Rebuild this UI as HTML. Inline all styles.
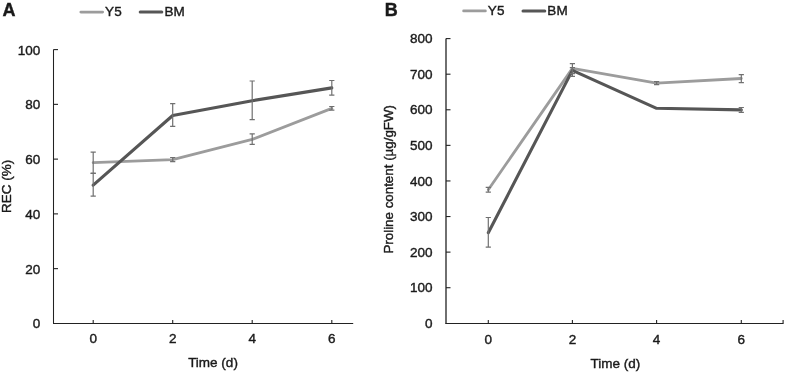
<!DOCTYPE html>
<html><head><meta charset="utf-8"><title>Figure</title>
<style>
html,body{margin:0;padding:0;background:#fff;}
body{width:786px;height:373px;overflow:hidden;}
svg{display:block;position:absolute;left:0;top:0;font-family:"Liberation Sans",sans-serif;}
text{stroke:#1a1a1a;stroke-width:0.4px;}
</style></head><body>
<svg width="786" height="373" viewBox="0 0 786 373">
<rect width="786" height="373" fill="#ffffff"/>
<defs><filter id="idf" x="0" y="0" width="786" height="373" filterUnits="userSpaceOnUse"><feOffset dx="0" dy="0"/></filter></defs>
<g filter="url(#idf)">
<text x="2.5" y="16.2" font-size="18" font-weight="bold" fill="#1a1a1a">A</text>
<line x1="80.8" y1="12.1" x2="102.7" y2="12.1" stroke="#9c9c9c" stroke-width="2.7" stroke-linecap="round"/>
<text x="104.9" y="16.1" font-size="13.5" letter-spacing="0.4" fill="#1a1a1a">Y5</text>
<line x1="140.2" y1="12.1" x2="161.8" y2="12.1" stroke="#565656" stroke-width="3" stroke-linecap="round"/>
<text x="164.4" y="16.1" font-size="13.5" letter-spacing="0.2" fill="#1a1a1a">BM</text>
<path d="M53.5 49.6V323.4H353.2" stroke="#222222" stroke-width="1.05" fill="none"/>
<text x="40.3" y="328.3" font-size="13.5" text-anchor="end" fill="#1a1a1a">0</text>
<line x1="53.5" y1="268.64" x2="58.0" y2="268.64" stroke="#222222" stroke-width="1.1"/>
<text x="40.3" y="273.54" font-size="13.5" text-anchor="end" fill="#1a1a1a">20</text>
<line x1="53.5" y1="213.88" x2="58.0" y2="213.88" stroke="#222222" stroke-width="1.1"/>
<text x="40.3" y="218.78" font-size="13.5" text-anchor="end" fill="#1a1a1a">40</text>
<line x1="53.5" y1="159.12" x2="58.0" y2="159.12" stroke="#222222" stroke-width="1.1"/>
<text x="40.3" y="164.02" font-size="13.5" text-anchor="end" fill="#1a1a1a">60</text>
<line x1="53.5" y1="104.36" x2="58.0" y2="104.36" stroke="#222222" stroke-width="1.1"/>
<text x="40.3" y="109.26" font-size="13.5" text-anchor="end" fill="#1a1a1a">80</text>
<line x1="53.5" y1="49.6" x2="58.0" y2="49.6" stroke="#222222" stroke-width="1.1"/>
<text x="40.3" y="54.5" font-size="13.5" text-anchor="end" fill="#1a1a1a">100</text>
<line x1="93.2" y1="323.4" x2="93.2" y2="320.0" stroke="#222222" stroke-width="1.1"/>
<text x="93.2" y="342.9" font-size="13.5" text-anchor="middle" fill="#1a1a1a">0</text>
<line x1="172.7" y1="323.4" x2="172.7" y2="320.0" stroke="#222222" stroke-width="1.1"/>
<text x="172.7" y="342.9" font-size="13.5" text-anchor="middle" fill="#1a1a1a">2</text>
<line x1="252.2" y1="323.4" x2="252.2" y2="320.0" stroke="#222222" stroke-width="1.1"/>
<text x="252.2" y="342.9" font-size="13.5" text-anchor="middle" fill="#1a1a1a">4</text>
<line x1="331.8" y1="323.4" x2="331.8" y2="320.0" stroke="#222222" stroke-width="1.1"/>
<text x="331.8" y="342.9" font-size="13.5" text-anchor="middle" fill="#1a1a1a">6</text>
<text x="213" y="366.8" font-size="13.5" text-anchor="middle" fill="#1a1a1a">Time (d)</text>
<text transform="translate(11.4 186.3) rotate(-90)" font-size="13.5" text-anchor="middle" fill="#1a1a1a">REC (%)</text>
<polyline points="93.2,162.6 172.7,159.7 252.2,139.4 331.8,108.4" stroke="#9c9c9c" stroke-width="2.8" fill="none" stroke-linejoin="round" stroke-linecap="round"/>
<polyline points="93.2,185.2 172.7,115.5 252.2,100.7 331.8,87.9" stroke="#565656" stroke-width="3.1" fill="none" stroke-linejoin="round" stroke-linecap="round"/>
<path d="M93.2 152.1V173.2M90.6 152.1H95.8M90.6 173.2H95.8" stroke="#707070" stroke-width="1.2" fill="none"/>
<path d="M93.2 173.5V196.2M90.6 173.5H95.8M90.6 196.2H95.8" stroke="#707070" stroke-width="1.2" fill="none"/>
<path d="M172.7 157.5V161.7M170.1 157.5H175.3M170.1 161.7H175.3" stroke="#707070" stroke-width="1.2" fill="none"/>
<path d="M172.7 103.7V126.3M170.1 103.7H175.3M170.1 126.3H175.3" stroke="#707070" stroke-width="1.2" fill="none"/>
<path d="M252.2 133.8V144.3M249.6 133.8H254.8M249.6 144.3H254.8" stroke="#707070" stroke-width="1.2" fill="none"/>
<path d="M252.2 81V119.6M249.6 81H254.8M249.6 119.6H254.8" stroke="#707070" stroke-width="1.2" fill="none"/>
<path d="M331.8 106.5V110.1M329.2 106.5H334.4M329.2 110.1H334.4" stroke="#707070" stroke-width="1.2" fill="none"/>
<path d="M331.8 80.5V95.1M329.2 80.5H334.4M329.2 95.1H334.4" stroke="#707070" stroke-width="1.2" fill="none"/>
<text x="384.8" y="16.0" font-size="18" font-weight="bold" fill="#1a1a1a">B</text>
<line x1="463.6" y1="10.9" x2="485.4" y2="10.9" stroke="#9c9c9c" stroke-width="2.7" stroke-linecap="round"/>
<text x="487.7" y="15" font-size="13.5" letter-spacing="0.4" fill="#1a1a1a">Y5</text>
<line x1="523" y1="10.9" x2="544.8" y2="10.9" stroke="#565656" stroke-width="3" stroke-linecap="round"/>
<text x="547.2" y="15" font-size="13.5" letter-spacing="0.2" fill="#1a1a1a">BM</text>
<path d="M446.0 38.6V323.8" stroke="#222222" stroke-width="1.3" fill="none"/>
<path d="M445.4 323.45H783.6" stroke="#222222" stroke-width="1.05" fill="none"/>
<text x="432.6" y="327.9" font-size="13.5" text-anchor="end" fill="#1a1a1a">0</text>
<line x1="446.0" y1="287.71" x2="450.5" y2="287.71" stroke="#222222" stroke-width="1.1"/>
<text x="432.6" y="292.31" font-size="13.5" text-anchor="end" fill="#1a1a1a">100</text>
<line x1="446.0" y1="252.12" x2="450.5" y2="252.12" stroke="#222222" stroke-width="1.1"/>
<text x="432.6" y="256.73" font-size="13.5" text-anchor="end" fill="#1a1a1a">200</text>
<line x1="446.0" y1="216.54" x2="450.5" y2="216.54" stroke="#222222" stroke-width="1.1"/>
<text x="432.6" y="221.14" font-size="13.5" text-anchor="end" fill="#1a1a1a">300</text>
<line x1="446.0" y1="180.95" x2="450.5" y2="180.95" stroke="#222222" stroke-width="1.1"/>
<text x="432.6" y="185.55" font-size="13.5" text-anchor="end" fill="#1a1a1a">400</text>
<line x1="446.0" y1="145.36" x2="450.5" y2="145.36" stroke="#222222" stroke-width="1.1"/>
<text x="432.6" y="149.96" font-size="13.5" text-anchor="end" fill="#1a1a1a">500</text>
<line x1="446.0" y1="109.78" x2="450.5" y2="109.78" stroke="#222222" stroke-width="1.1"/>
<text x="432.6" y="114.38" font-size="13.5" text-anchor="end" fill="#1a1a1a">600</text>
<line x1="446.0" y1="74.19" x2="450.5" y2="74.19" stroke="#222222" stroke-width="1.1"/>
<text x="432.6" y="78.79" font-size="13.5" text-anchor="end" fill="#1a1a1a">700</text>
<line x1="446.0" y1="38.6" x2="450.5" y2="38.6" stroke="#222222" stroke-width="1.1"/>
<text x="432.6" y="43.2" font-size="13.5" text-anchor="end" fill="#1a1a1a">800</text>
<line x1="488.3" y1="323.3" x2="488.3" y2="319.90000000000003" stroke="#222222" stroke-width="1.1"/>
<text x="488.3" y="344.1" font-size="13.5" text-anchor="middle" fill="#1a1a1a">0</text>
<line x1="572.4" y1="323.3" x2="572.4" y2="319.90000000000003" stroke="#222222" stroke-width="1.1"/>
<text x="572.4" y="344.1" font-size="13.5" text-anchor="middle" fill="#1a1a1a">2</text>
<line x1="656.6" y1="323.3" x2="656.6" y2="319.90000000000003" stroke="#222222" stroke-width="1.1"/>
<text x="656.6" y="344.1" font-size="13.5" text-anchor="middle" fill="#1a1a1a">4</text>
<line x1="741.3" y1="323.3" x2="741.3" y2="319.90000000000003" stroke="#222222" stroke-width="1.1"/>
<text x="741.3" y="344.1" font-size="13.5" text-anchor="middle" fill="#1a1a1a">6</text>
<line x1="783.1" y1="323.3" x2="783.1" y2="319.90000000000003" stroke="#222222" stroke-width="1.1"/>
<text x="615.3" y="368.2" font-size="13.5" text-anchor="middle" fill="#1a1a1a">Time (d)</text>
<text transform="translate(393.1 179.3) rotate(-90)" font-size="13.35" text-anchor="middle" fill="#1a1a1a">Proline content (µg/gFW)</text>
<polyline points="488.3,189.7 572.4,68.4 656.6,83.1 741.3,78.5" stroke="#9c9c9c" stroke-width="2.8" fill="none" stroke-linejoin="round" stroke-linecap="round"/>
<polyline points="488.3,232.7 572.4,70.4 656.6,108.3 741.3,109.9" stroke="#565656" stroke-width="3.1" fill="none" stroke-linejoin="round" stroke-linecap="round"/>
<path d="M488.3 187.3V192.1M485.7 187.3H490.9M485.7 192.1H490.9" stroke="#707070" stroke-width="1.2" fill="none"/>
<path d="M488.3 217.5V247.2M485.7 217.5H490.9M485.7 247.2H490.9" stroke="#707070" stroke-width="1.2" fill="none"/>
<path d="M572.4 63.7V73.7M569.8 63.7H575M569.8 73.7H575" stroke="#707070" stroke-width="1.2" fill="none"/>
<path d="M572.4 67.7V76.4M569.8 67.7H575M569.8 76.4H575" stroke="#707070" stroke-width="1.2" fill="none"/>
<path d="M656.6 81.6V84.6M654 81.6H659.2M654 84.6H659.2" stroke="#707070" stroke-width="1.2" fill="none"/>
<path d="M741.3 74.6V82.7M738.7 74.6H743.9M738.7 82.7H743.9" stroke="#707070" stroke-width="1.2" fill="none"/>
<path d="M741.3 107.5V112.4M738.7 107.5H743.9M738.7 112.4H743.9" stroke="#707070" stroke-width="1.2" fill="none"/>
</g>
</svg>
</body></html>
